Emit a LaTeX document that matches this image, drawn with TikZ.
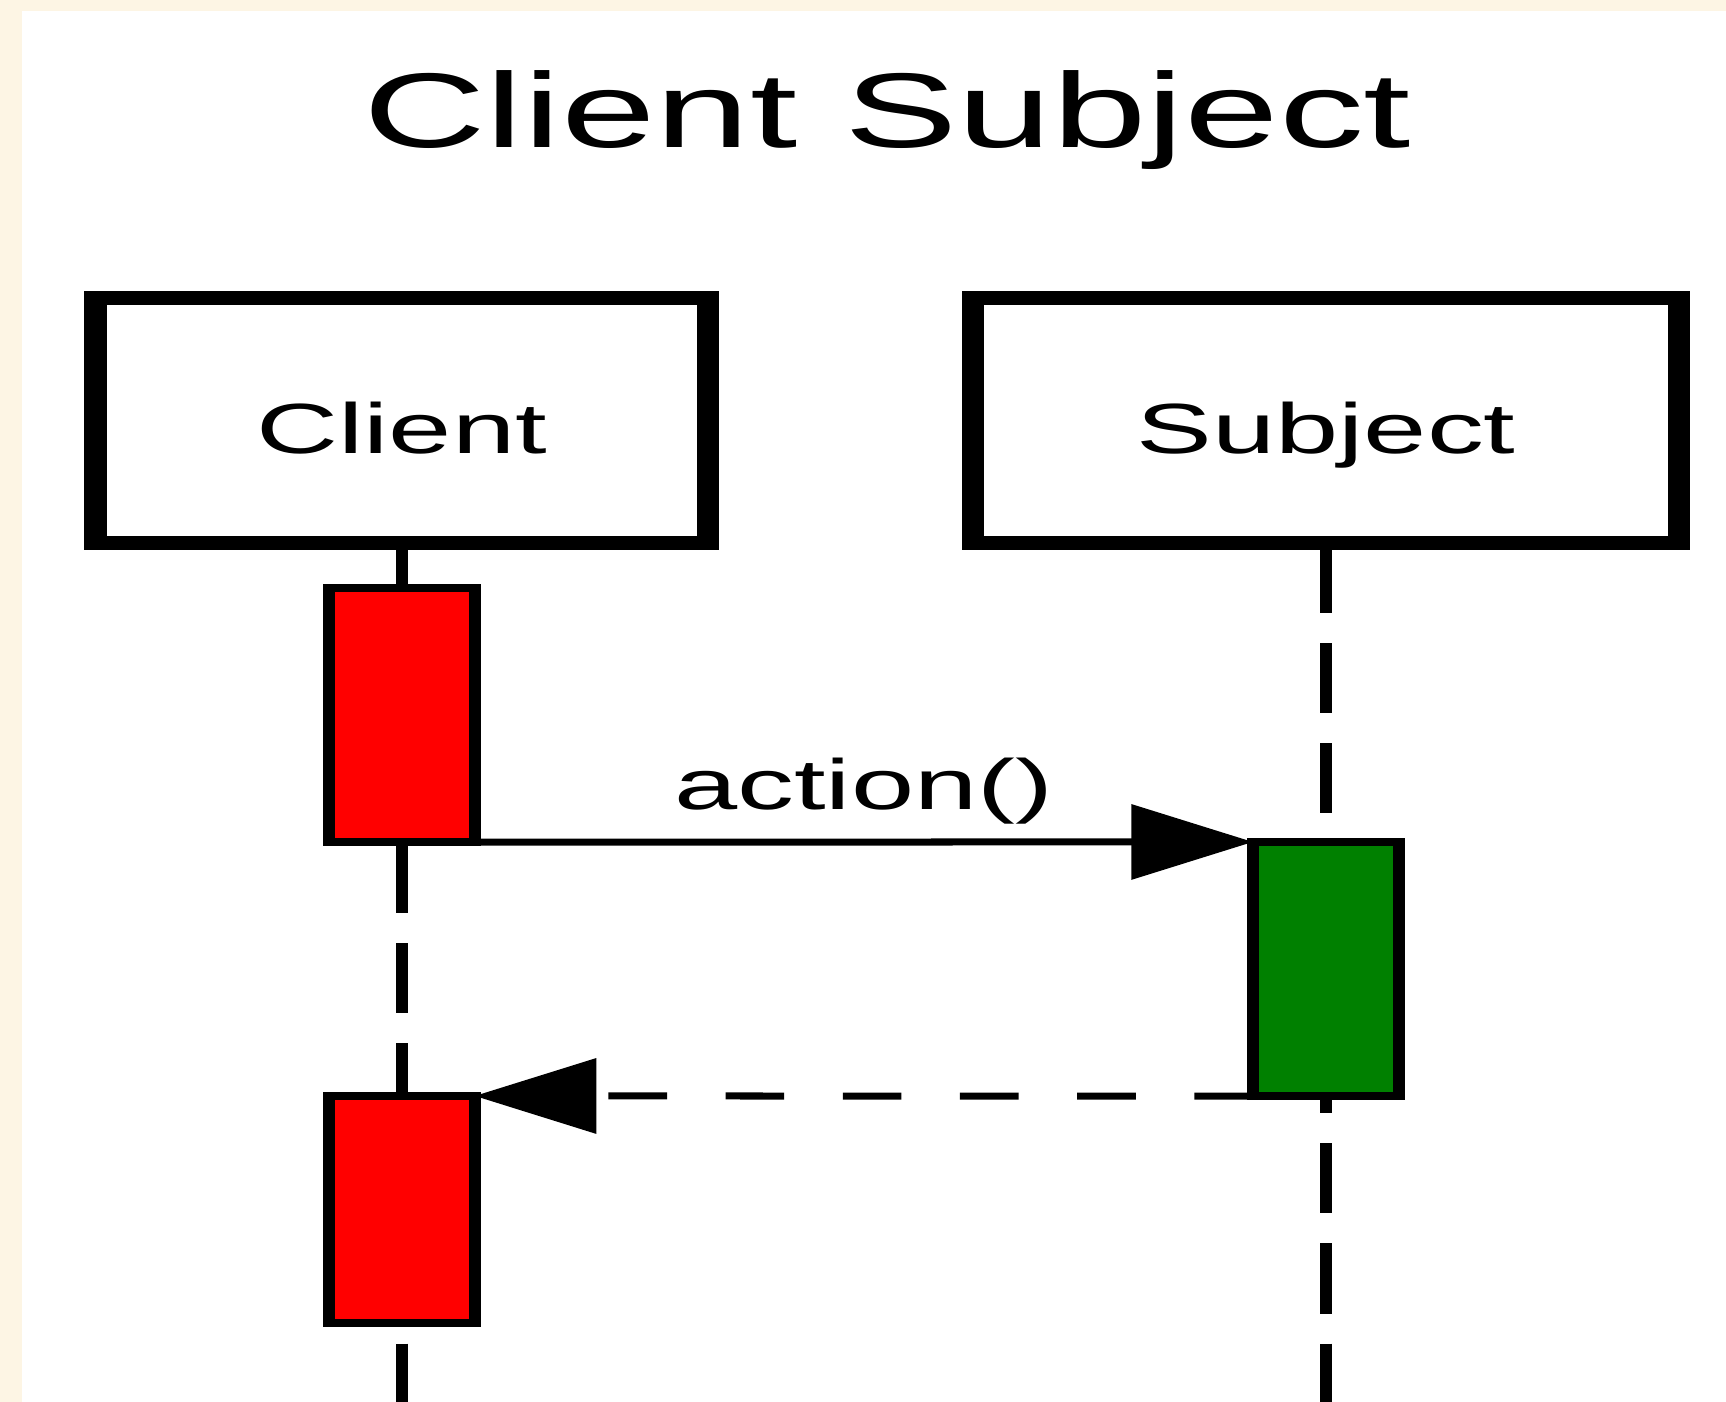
\documentclass[tikz,border=0pt]{standalone}
\usepackage{fontspec}
\setmainfont{Liberation Sans}
\usetikzlibrary{arrows.meta}
\definecolor{pagecream}{RGB}{253,245,228}
\definecolor{actred}{RGB}{255,0,0}
\definecolor{actgreen}{RGB}{0,128,0}
\tikzset{
  lifebox/.style={draw,rectangle,line width=1.4mm,minimum height=24.5mm,inner sep=0pt,
    text height=6.5mm,text depth=0pt,font=\fontsize{20.2pt}{24pt}\selectfont},
  actbox/.style={draw,rectangle,line width=0.75mm,minimum width=9.125mm,inner sep=0pt,outer sep=0pt},
  lifeline/.style={line width=0.75mm,dash pattern=on 7mm off 3mm,dash phase=0.7mm},
  callmsg/.style={line width=0.7mm,-{Triangle[length=7.6mm,width=7.4mm]}},
  replymsg/.style={callmsg,dash pattern=on 3.66mm off 3.66mm}
}

\begin{document}
\begin{tikzpicture}[x=0.01cm,y=-0.01cm]
\useasboundingbox (0,0) rectangle (1726,1402);
\fill[pagecream] (0,0) rectangle (1726,1402);
\fill[white] (22,11) rectangle (1726,1402);
\begin{scope}[transform canvas={xscale=1.6},x=0.00625cm]
\draw (886,147) node[anchor=base,font=\fontsize{30.2pt}{36pt}\selectfont](title) {Client Subject};
\draw (401,420.5) node[lifebox,minimum width=38.25mm](client) {Client};
\draw (1324,420.5) node[lifebox,minimum width=44.1mm](subject) {Subject};
\coordinate (bottom) at (0,1410);
\draw[lifeline] (client.south) -- (client.south |- bottom);
\draw[lifeline] (subject.south) -- (subject.south |- bottom);
\draw (401,715) node[actbox,fill=actred,minimum height=25.4mm](act1) {};
\draw (1324,969) node[actbox,fill=actgreen,minimum height=25.4mm](act2) {};
\draw (401,1209.5) node[actbox,fill=actred,minimum height=22.7mm](act3) {};
\draw[callmsg] (act1.south east) -- (act2.north west)
  node[midway,above=1.4mm,inner sep=0pt,font=\fontsize{20.2pt}{24pt}\selectfont](call) {action()};
\draw[replymsg] (act2.south west) -- (act3.north east);
\end{scope}
\end{tikzpicture}
\end{document}
